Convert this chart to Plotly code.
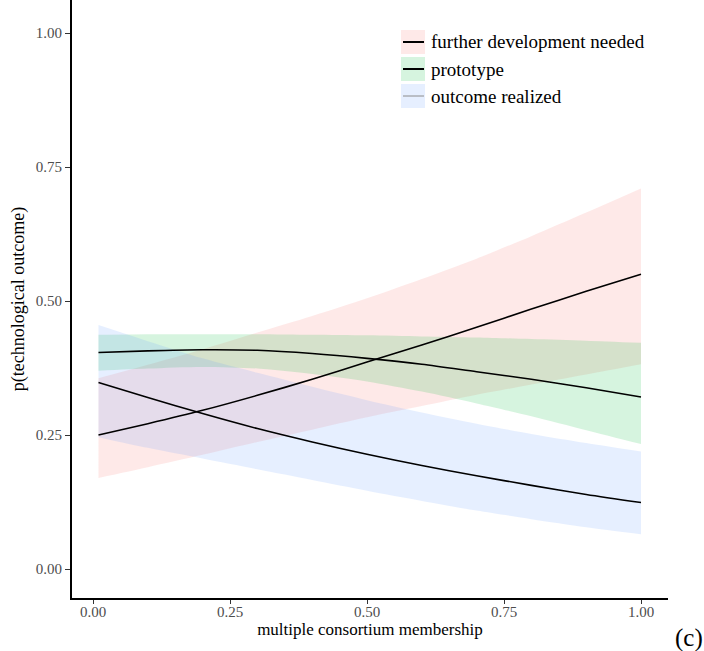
import plotly.graph_objects as go

# ---------------- data ----------------
x_vals = [0.01, 0.1, 0.2, 0.3, 0.4, 0.5, 0.6, 0.7, 0.8, 0.9, 1.0]

categories = ["further development needed", "prototype", "outcome realized"]

fdn_fit   = [0.250, 0.271, 0.296, 0.324, 0.354, 0.386, 0.418, 0.451, 0.485, 0.518, 0.550]
fdn_low   = [0.170, 0.190, 0.213, 0.237, 0.260, 0.283, 0.304, 0.325, 0.344, 0.363, 0.382]
fdn_high  = [0.356, 0.381, 0.410, 0.441, 0.472, 0.505, 0.541, 0.579, 0.621, 0.665, 0.710]

proto_fit  = [0.404, 0.407, 0.409, 0.408, 0.402, 0.393, 0.382, 0.368, 0.354, 0.338, 0.321]
proto_low  = [0.370, 0.374, 0.377, 0.374, 0.364, 0.350, 0.331, 0.309, 0.285, 0.259, 0.233]
proto_high = [0.437, 0.438, 0.438, 0.438, 0.437, 0.436, 0.434, 0.432, 0.429, 0.426, 0.422]

real_fit  = [0.348, 0.320, 0.290, 0.262, 0.237, 0.214, 0.193, 0.174, 0.156, 0.139, 0.124]
real_low  = [0.246, 0.226, 0.206, 0.186, 0.166, 0.146, 0.127, 0.109, 0.093, 0.078, 0.065]
real_high = [0.455, 0.425, 0.393, 0.366, 0.340, 0.315, 0.292, 0.271, 0.252, 0.235, 0.219]

tick_vals = [0.0, 0.25, 0.5, 0.75, 1.0]
tick_text = ["0.00", "0.25", "0.50", "0.75", "1.00"]

# ---------------- style ----------------
FONT = "'Liberation Serif', 'Times New Roman', Times, serif"
fills = ["rgba(248,118,109,0.16)", "rgba(0,186,56,0.16)", "rgba(97,156,255,0.16)"]
series = [(fdn_fit, fdn_low, fdn_high), (proto_fit, proto_low, proto_high), (real_fit, real_low, real_high)]

fig = go.Figure()

for (fit, lo, hi), fc in zip(series, fills):
    fig.add_trace(go.Scatter(
        x=x_vals, y=lo, mode="lines",
        line=dict(width=0, color="rgba(0,0,0,0)", shape="spline", smoothing=0.8),
        hoverinfo="skip", showlegend=False))
    fig.add_trace(go.Scatter(
        x=x_vals, y=hi, mode="lines", fill="tonexty", fillcolor=fc,
        line=dict(width=0, color="rgba(0,0,0,0)", shape="spline", smoothing=0.8),
        hoverinfo="skip", showlegend=False))

for (fit, lo, hi), name in zip(series, categories):
    fig.add_trace(go.Scatter(
        x=x_vals, y=fit, mode="lines", name=name,
        line=dict(color="black", width=1.6, shape="spline", smoothing=0.8), showlegend=False))

# plot area in pixels
L, R, T, B = 72, 668, 0, 598
W, H = 704, 651


def px(xp):
    return (xp - L) / (R - L)


def py(yp):
    return (B - yp) / (B - T)


# manual legend
shapes = []
annotations = []
legend_lines = [dict(color="black", width=2), dict(color="black", width=2), dict(color="#8c8c8c", width=1)]
for i, (name, fc, ln) in enumerate(zip(categories, fills, legend_lines)):
    top = 30 + i * 27
    bot = top + 24
    cy = (top + bot) / 2
    shapes.append(dict(type="rect", xref="paper", yref="paper",
                       x0=px(401), x1=px(425), y0=py(bot), y1=py(top),
                       fillcolor=fc, line=dict(width=0), layer="above"))
    shapes.append(dict(type="line", xref="paper", yref="paper",
                       x0=px(403), x1=px(424), y0=py(cy), y1=py(cy),
                       line=ln, layer="above"))
    annotations.append(dict(text=name, xref="paper", yref="paper",
                            x=px(429), y=py(cy), xanchor="left", yanchor="middle",
                            showarrow=False, font=dict(family=FONT, size=19, color="black")))

annotations.append(dict(text="(c)", xref="paper", yref="paper",
                        x=px(704), y=py(638), xanchor="right", yanchor="middle",
                        showarrow=False, borderpad=0,
                        font=dict(family=FONT, size=25, color="black")))

x_lo = -(93 - L) / 548.0
x_hi = (R - 93) / 548.0
y_lo = -(B - 569) / 536.0
y_hi = (569 - T) / 536.0

fig.update_layout(
    width=W, height=H,
    margin=dict(l=L, r=W - R, t=T, b=H - B),
    paper_bgcolor="white", plot_bgcolor="white",
    font=dict(family=FONT),
    shapes=shapes, annotations=annotations,
    showlegend=False,
    xaxis=dict(range=[x_lo, x_hi], tickvals=tick_vals, ticktext=tick_text,
               showgrid=False, zeroline=False, showline=True, linecolor="black", linewidth=2,
               ticks="outside", ticklen=4, tickcolor="#333333", tickwidth=1,
               ticklabelstandoff=-5,
               tickfont=dict(family=FONT, size=15, color="#4d4d4d"),
               title=dict(text="multiple consortium membership",
                          font=dict(family=FONT, size=17, color="black"), standoff=2)),
    yaxis=dict(range=[y_lo, y_hi], tickvals=tick_vals, ticktext=tick_text,
               showgrid=False, zeroline=False, showline=True, linecolor="black", linewidth=2,
               ticks="outside", ticklen=5, tickcolor="#333333", tickwidth=1,
               tickfont=dict(family=FONT, size=15, color="#4d4d4d"),
               title=dict(text="p(technological outcome)",
                          font=dict(family=FONT, size=18, color="black"), standoff=6)),
)

fig.write_html("out.html")
